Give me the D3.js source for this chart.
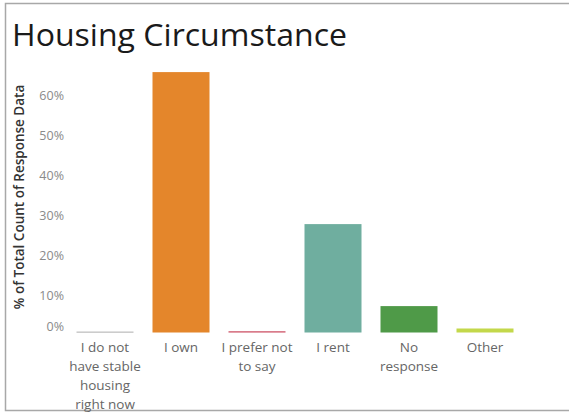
<!DOCTYPE html>
<html>
<head>
<meta charset="utf-8">
<script src="https://cdn.jsdelivr.net/npm/d3@7"></script>
<style>
html,body{margin:0;padding:0;background:#fff;}
svg{display:block;}
</style>
</head>
<body>
<svg id="chart" width="569" height="412"></svg>
<script>
const categories = ["I do not have stable housing right now", "I own", "I prefer not to say", "I rent", "No response", "Other"];
const labelLines = [["I do not","have stable","housing","right now"],["I own"],["I prefer not","to say"],["I rent"],["No","response"],["Other"]];
const values = [0.2, 65.1, 0.3, 27.1, 6.6, 1.0];
const colors = ["#9a9a9a", "#E4862B", "#C9455B", "#6FAE9F", "#4F9A48", "#C3D84B"];
const yTicks = [0, 10, 20, 30, 40, 50, 60];

const svg = d3.select("#chart");

// frame
svg.append("path")
  .attr("d", `M569,3.5 H5.5 V410.5 H569`)
  .attr("fill", "none").attr("stroke", "#a8a8a8").attr("stroke-width", 1.5);

svg.append("text")
  .attr("x", 12).attr("y", 46)
  .attr("font-family", "Open Sans, sans-serif")
  .attr("font-size", 31)
  .attr("fill", "#1a1a1a")
  .attr("textLength", 335)
  .attr("lengthAdjust", "spacingAndGlyphs")
  .text("Housing Circumstance");

const x = d3.scaleBand().domain(categories).range([67, 523]).paddingInner(0.25).paddingOuter(0.125);
const y = d3.scaleLinear().domain([0, 60]).range([332.5, 92.5]);

svg.append("g").selectAll("rect").data(categories).join("rect")
  .attr("x", d => x(d))
  .attr("width", x.bandwidth())
  .attr("y", (d, i) => y(values[i]))
  .attr("height", (d, i) => y(0) - y(values[i]))
  .attr("fill", (d, i) => colors[i]);

const yAxis = d3.axisLeft(y).tickValues(yTicks).tickFormat(d => d + "%").tickSize(0).tickPadding(0);
const gy = svg.append("g").attr("transform", "translate(64,0)").call(yAxis);
gy.select(".domain").remove();
gy.selectAll("text")
  .attr("font-family", "Open Sans, sans-serif")
  .attr("font-size", 12.5)
  .attr("fill", "#8a8a8a")
  .attr("dy", "0.45em")
  .attr("y", d => d === 0 ? -8 : 1.5);

svg.append("text")
  .attr("transform", "translate(24,197) rotate(-90)")
  .attr("text-anchor", "middle")
  .attr("font-family", "Open Sans, sans-serif")
  .attr("font-size", 13.5)
  .attr("font-weight", "600")
  .attr("fill", "#333")
  .text("% of Total Count of Response Data");

const xg = svg.append("g");
categories.forEach((c, i) => {
  const t = xg.append("text")
    .attr("text-anchor", "middle")
    .attr("font-family", "Open Sans, sans-serif")
    .attr("font-size", 13.5)
    .attr("fill", "#666");
  labelLines[i].forEach((ln, j) => {
    t.append("tspan").attr("x", x(c) + x.bandwidth() / 2).attr("y", 352 + j * 19).text(ln);
  });
});
</script>
</body>
</html>
